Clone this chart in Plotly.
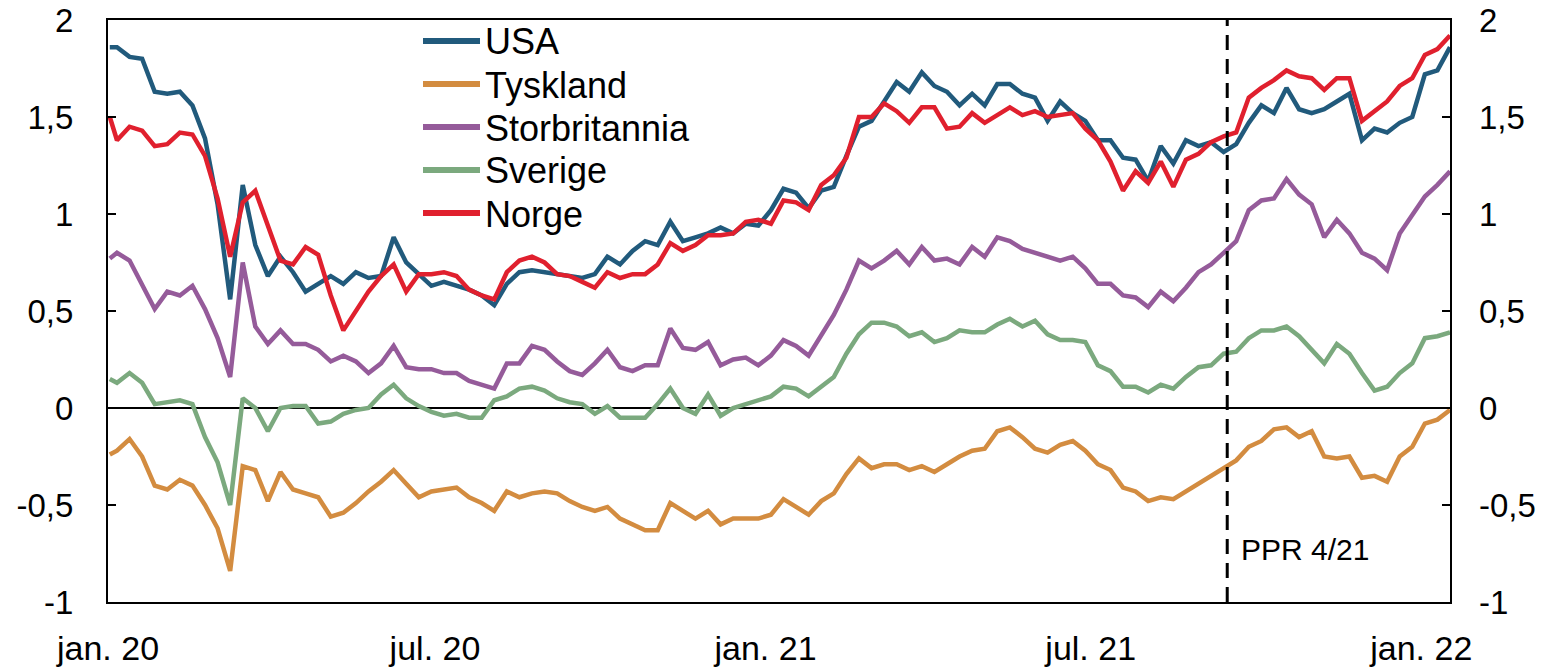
import pandas as pd
import plotly.graph_objects as go

# ---- data (weekly readings, first point 2 Jan 2020, then Mondays) ----
dates = ["2020-01-02"] + [d.strftime("%Y-%m-%d") for d in pd.date_range("2020-01-06", "2022-01-17", freq="7D")]

usa = [1.86,
       1.86, 1.81, 1.80, 1.63, 1.62, 1.63, 1.56, 1.39, 1.05, 0.56, 1.15, 0.84, 0.68, 0.78, 0.70, 0.60, 0.64, 0.68,
       0.64, 0.70, 0.67, 0.68, 0.88, 0.75, 0.69, 0.63, 0.65, 0.63, 0.61, 0.58, 0.53, 0.64, 0.70, 0.71, 0.70, 0.69,
       0.68, 0.67, 0.69, 0.78, 0.74, 0.81, 0.86, 0.84, 0.96, 0.86, 0.88, 0.90, 0.93, 0.90, 0.95, 0.94, 1.02, 1.13,
       1.11, 1.03, 1.12, 1.14, 1.30, 1.45, 1.48, 1.58, 1.68, 1.63, 1.73, 1.66, 1.63, 1.56, 1.62, 1.56, 1.67, 1.67,
       1.62, 1.60, 1.48, 1.58, 1.52, 1.48, 1.38, 1.38, 1.29, 1.28, 1.17, 1.35, 1.26, 1.38, 1.35, 1.37, 1.32, 1.36,
       1.47, 1.56, 1.52, 1.65, 1.54, 1.52, 1.54, 1.58, 1.62, 1.38, 1.44, 1.42, 1.47, 1.50, 1.72, 1.74, 1.86]

tyskland = [-0.24,
            -0.22, -0.16, -0.25, -0.40, -0.42, -0.37, -0.40, -0.50, -0.62, -0.84, -0.30, -0.32, -0.48, -0.33, -0.42, -0.44, -0.46, -0.56,
            -0.54, -0.49, -0.43, -0.38, -0.32, -0.39, -0.46, -0.43, -0.42, -0.41, -0.46, -0.49, -0.53, -0.43, -0.46, -0.44, -0.43, -0.44,
            -0.48, -0.51, -0.53, -0.51, -0.57, -0.60, -0.63, -0.63, -0.49, -0.53, -0.57, -0.53, -0.60, -0.57, -0.57, -0.57, -0.55, -0.47,
            -0.51, -0.55, -0.48, -0.44, -0.34, -0.26, -0.31, -0.29, -0.29, -0.32, -0.30, -0.33, -0.29, -0.25, -0.22, -0.21, -0.12, -0.10,
            -0.15, -0.21, -0.23, -0.19, -0.17, -0.22, -0.29, -0.32, -0.41, -0.43, -0.48, -0.46, -0.47, -0.43, -0.39, -0.35, -0.31, -0.27,
            -0.20, -0.17, -0.11, -0.10, -0.15, -0.12, -0.25, -0.26, -0.25, -0.36, -0.35, -0.38, -0.25, -0.20, -0.08, -0.06, -0.01]

storbritannia = [0.77,
                 0.80, 0.76, 0.63, 0.51, 0.60, 0.58, 0.63, 0.51, 0.36, 0.16, 0.75, 0.42, 0.33, 0.40, 0.33, 0.33, 0.30, 0.24,
                 0.27, 0.24, 0.18, 0.23, 0.32, 0.21, 0.20, 0.20, 0.18, 0.18, 0.14, 0.12, 0.10, 0.23, 0.23, 0.32, 0.30, 0.24,
                 0.19, 0.17, 0.23, 0.30, 0.21, 0.19, 0.22, 0.22, 0.41, 0.31, 0.30, 0.34, 0.22, 0.25, 0.26, 0.22, 0.27, 0.35,
                 0.32, 0.27, 0.38, 0.48, 0.61, 0.76, 0.72, 0.76, 0.81, 0.74, 0.83, 0.76, 0.77, 0.74, 0.83, 0.78, 0.88, 0.86,
                 0.82, 0.80, 0.78, 0.76, 0.78, 0.72, 0.64, 0.64, 0.58, 0.57, 0.52, 0.60, 0.55, 0.62, 0.70, 0.74, 0.80, 0.86,
                 1.02, 1.07, 1.08, 1.18, 1.10, 1.05, 0.88, 0.97, 0.90, 0.80, 0.77, 0.71, 0.90, 1.00, 1.09, 1.15, 1.22]

sverige = [0.15,
           0.13, 0.18, 0.13, 0.02, 0.03, 0.04, 0.02, -0.15, -0.28, -0.50, 0.05, 0.00, -0.12, 0.00, 0.01, 0.01, -0.08, -0.07,
           -0.03, -0.01, 0.00, 0.07, 0.12, 0.05, 0.01, -0.02, -0.04, -0.03, -0.05, -0.05, 0.04, 0.06, 0.10, 0.11, 0.09, 0.05,
           0.03, 0.02, -0.03, 0.01, -0.05, -0.05, -0.05, 0.02, 0.10, 0.00, -0.03, 0.07, -0.04, 0.00, 0.02, 0.04, 0.06, 0.11,
           0.10, 0.06, 0.11, 0.16, 0.28, 0.38, 0.44, 0.44, 0.42, 0.37, 0.39, 0.34, 0.36, 0.40, 0.39, 0.39, 0.43, 0.46,
           0.42, 0.45, 0.38, 0.35, 0.35, 0.34, 0.22, 0.19, 0.11, 0.11, 0.08, 0.12, 0.10, 0.16, 0.21, 0.22, 0.28, 0.29,
           0.36, 0.40, 0.40, 0.42, 0.37, 0.30, 0.23, 0.33, 0.28, 0.18, 0.09, 0.11, 0.18, 0.23, 0.36, 0.37, 0.39]

norge = [1.50,
         1.38, 1.45, 1.43, 1.35, 1.36, 1.42, 1.41, 1.30, 1.08, 0.78, 1.06, 1.12, 0.94, 0.76, 0.74, 0.83, 0.79, 0.58,
         0.40, 0.50, 0.60, 0.68, 0.74, 0.60, 0.69, 0.69, 0.70, 0.68, 0.61, 0.58, 0.56, 0.70, 0.76, 0.78, 0.75, 0.69,
         0.68, 0.65, 0.62, 0.70, 0.67, 0.69, 0.69, 0.74, 0.85, 0.81, 0.84, 0.89, 0.89, 0.90, 0.96, 0.97, 0.95, 1.07,
         1.06, 1.02, 1.15, 1.20, 1.29, 1.50, 1.50, 1.57, 1.53, 1.47, 1.55, 1.55, 1.44, 1.45, 1.52, 1.47, 1.51, 1.55,
         1.51, 1.53, 1.50, 1.51, 1.52, 1.44, 1.38, 1.27, 1.12, 1.22, 1.16, 1.27, 1.14, 1.28, 1.31, 1.37, 1.40, 1.42,
         1.60, 1.65, 1.69, 1.74, 1.71, 1.70, 1.64, 1.70, 1.70, 1.48, 1.53, 1.58, 1.66, 1.70, 1.82, 1.85, 1.92]

series_names = ["USA", "Tyskland", "Storbritannia", "Sverige", "Norge"]
series_values = [usa, tyskland, storbritannia, sverige, norge]
series_colors = ["#215A7C", "#D38C40", "#955B9A", "#7BA97E", "#E0202E"]

x_tick_vals = ["2020-01-01", "2020-07-01", "2021-01-01", "2021-07-01", "2022-01-01"]
x_tick_text = ["jan. 20", "jul. 20", "jan. 21", "jul. 21", "jan. 22"]
y_tick_vals = [-1, -0.5, 0, 0.5, 1, 1.5, 2]
y_tick_text = ["-1", "-0,5", "0", "0,5", "1", "1,5", "2"]
x_range = ["2020-01-01", "2022-01-17"]
ppr_date = "2021-09-15"
ppr_label = "PPR 4/21"

FONT = "Arial, Liberation Sans, sans-serif"
W, H = 1554, 668
ML, MR, MT, MB = 108, 104, 20, 66
PW, PH = W - ML - MR, H - MT - MB

fig = go.Figure()
for name, vals, col in zip(series_names, series_values, series_colors):
    fig.add_trace(go.Scatter(x=dates, y=vals, name=name, mode="lines", showlegend=False,
                             line=dict(color=col, width=4.5)))
# empty trace to register the right-hand axis
fig.add_trace(go.Scatter(x=[], y=[], yaxis="y2", showlegend=False, hoverinfo="skip"))

# legend drawn as line samples + text (keeps the reference's compact row spacing)
leg_x0, leg_x1, leg_text_x = 423, 480, 483   # figure pixels
leg_rows = [41, 84, 127, 170, 213]
for name, col, py in zip(series_names, series_colors, leg_rows):
    yp = (MT + PH - py) / PH
    fig.add_shape(type="line", xref="paper", yref="paper",
                  x0=(leg_x0 - ML) / PW, x1=(leg_x1 - ML) / PW, y0=yp, y1=yp,
                  line=dict(color=col, width=6))
    fig.add_annotation(xref="paper", yref="paper", x=(leg_text_x - ML) / PW, y=yp, yshift=-1,
                       text=name, showarrow=False, xanchor="left", yanchor="middle",
                       font=dict(family=FONT, size=36, color="black"))

fig.add_shape(type="line", x0=ppr_date, x1=ppr_date, xref="x", y0=0, y1=1, yref="paper",
              line=dict(color="black", width=3, dash="15px,9px"))
fig.add_annotation(x=ppr_date, y=-0.73, xref="x", yref="y", text=ppr_label, showarrow=False,
                   xanchor="left", yanchor="middle", xshift=12,
                   font=dict(family=FONT, size=30, color="black"))

axis_common = dict(range=[-1, 2], tickvals=y_tick_vals, ticktext=y_tick_text,
                   ticks="inside", ticklen=8, tickwidth=1.5, tickcolor="black",
                   showgrid=False, automargin=False, ticklabeloverflow="allow",
                   tickfont=dict(family=FONT, size=33, color="black"))

fig.update_layout(
    width=W, height=H,
    margin=dict(l=ML, r=MR, t=MT, b=MB),
    paper_bgcolor="white", plot_bgcolor="white",
    showlegend=False,
    xaxis=dict(type="date", range=x_range, tickvals=x_tick_vals, ticktext=x_tick_text,
               ticks="", showgrid=False, showline=True, mirror=True, linecolor="black",
               linewidth=2, zeroline=False, automargin=False, ticklabelstandoff=15,
               ticklabeloverflow="allow",
               tickfont=dict(family=FONT, size=34, color="black")),
    yaxis=dict(**axis_common, showline=True, mirror=True, linecolor="black", linewidth=2,
               zeroline=True, zerolinecolor="black", zerolinewidth=1.5, side="left",
               ticklabelstandoff=26),
    yaxis2=dict(**axis_common, overlaying="y", side="right", showline=False, zeroline=False,
                ticklabelstandoff=28),
)

# remove the default 8px page margin so the figure fills the window exactly
fig.write_html("out.html",
               config={"displayModeBar": False},
               post_script="document.body.style.margin='0px';"
                           "document.documentElement.style.overflow='hidden';")
